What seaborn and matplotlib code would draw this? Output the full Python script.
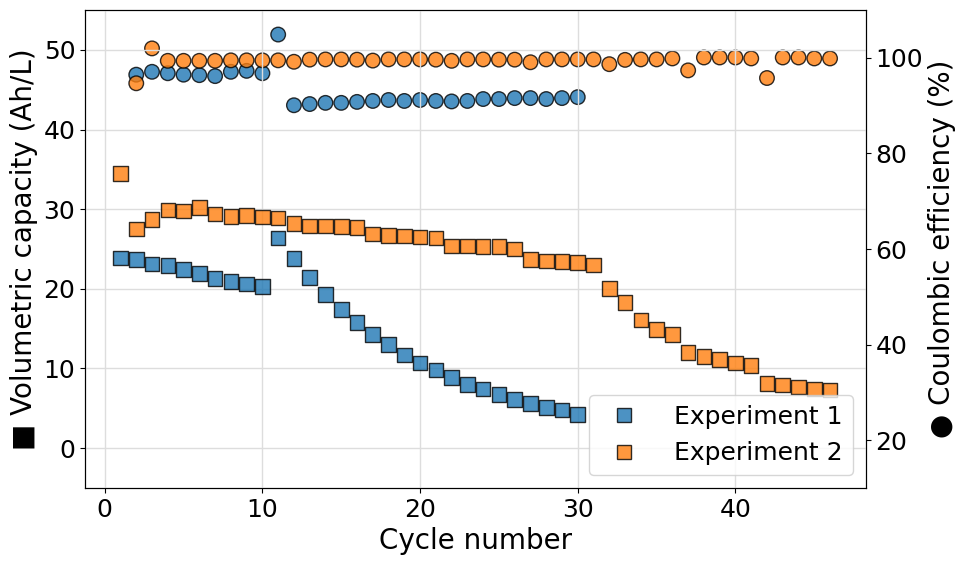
import numpy as np
import pandas as pd
import matplotlib
matplotlib.use("Agg")
import matplotlib.pyplot as plt
import seaborn as sns

# cycle numbers
cycles_1 = list(range(1, 31))
cycles_2 = list(range(1, 47))

# volumetric capacity (Ah/L)
cap_1 = [23.9, 23.7, 23.1, 22.9, 22.4, 21.9, 21.3, 20.9, 20.6, 20.3,
         26.4, 23.8, 21.4, 19.3, 17.4, 15.75, 14.25, 13.0, 11.7, 10.7,
         9.8, 8.85, 8.0, 7.4, 6.7, 6.1, 5.6, 5.1, 4.8, 4.2]
cap_2 = [34.5, 27.5, 28.7, 29.9, 29.8, 30.2, 29.4, 29.1, 29.2, 29.0,
         28.9, 28.2, 27.9, 27.9, 27.8, 27.7, 26.9, 26.7, 26.65, 26.5,
         26.4, 25.4, 25.4, 25.3, 25.3, 25.0, 23.7, 23.5, 23.4, 23.3,
         23.0, 20.05, 18.25, 16.1, 14.9, 14.25, 12.0, 11.5, 11.1, 10.7,
         10.4, 8.1, 7.9, 7.65, 7.4, 7.3]

# coulombic efficiency (%), starts at cycle 2
ce_cycles_1 = list(range(2, 31))
ce_cycles_2 = list(range(2, 47))
ce_1 = [96.5, 97.1, 96.8, 96.5, 96.4, 96.2, 97.1, 97.3, 96.8, 104.9,
        90.1, 90.35, 90.6, 90.6, 90.8, 91.0, 91.2, 91.0, 91.2, 91.0,
        90.9, 91.0, 91.4, 91.4, 91.6, 91.6, 91.4, 91.6, 91.8]
ce_2 = [94.7, 102.0, 99.4, 99.4, 99.4, 99.4, 99.5, 99.5, 99.5, 99.5,
        99.2, 99.65, 99.7, 99.7, 99.65, 99.45, 99.7, 99.7, 99.7, 99.65,
        99.4, 99.7, 99.7, 99.65, 99.65, 99.1, 99.7, 99.7, 99.7, 99.7,
        98.7, 99.6, 99.7, 99.7, 99.9, 97.4, 100.1, 100.1, 100.1, 99.9,
        95.8, 100.1, 100.1, 99.9, 99.9]

cap_df = pd.concat([
    pd.DataFrame({"cycle": cycles_1, "cap": cap_1, "exp": "Experiment 1"}),
    pd.DataFrame({"cycle": cycles_2, "cap": cap_2, "exp": "Experiment 2"}),
])
ce_df = pd.concat([
    pd.DataFrame({"cycle": ce_cycles_1, "ce": ce_1, "exp": "Experiment 1"}),
    pd.DataFrame({"cycle": ce_cycles_2, "ce": ce_2, "exp": "Experiment 2"}),
])

palette = {"Experiment 1": "tab:blue", "Experiment 2": "tab:orange"}

fig, ax = plt.subplots(figsize=(9.66, 5.66), dpi=100)
ax2 = ax.twinx()

sns.scatterplot(data=ce_df, x="cycle", y="ce", hue="exp", palette=palette,
                marker="o", s=110, alpha=0.8, edgecolor="black", linewidth=1,
                ax=ax2, legend=False)
sns.scatterplot(data=cap_df, x="cycle", y="cap", hue="exp", palette=palette,
                marker="s", s=110, alpha=0.8, edgecolor="black", linewidth=1,
                ax=ax)

ax.set_zorder(ax2.get_zorder() + 1)
ax.patch.set_visible(False)

ax.set_ylim(-5, 55)
ax2.set_ylim(10, 110)
ax.set_xlim(-1.25, 48.25)
ax.set_xticks([0, 10, 20, 30, 40])
ax.set_yticks([0, 10, 20, 30, 40, 50])
ax2.set_yticks([20, 40, 60, 80, 100])
ax.grid(True, color="#dddddd", linewidth=1)
ax.set_axisbelow(True)

ax.set_xlabel("Cycle number", fontsize=20)
ax.set_ylabel("■ Volumetric capacity (Ah/L)", fontsize=20)
ax2.set_ylabel("● Coulombic efficiency (%)", fontsize=20)
ax.tick_params(labelsize=18)
ax2.tick_params(labelsize=18)

ax.legend(loc="lower right", fontsize=18, handletextpad=1.0, title=None,
          markerscale=0.9)

plt.subplots_adjust(left=0.088, right=0.896, top=0.982, bottom=0.138)
plt.savefig("out.png", dpi=100)
